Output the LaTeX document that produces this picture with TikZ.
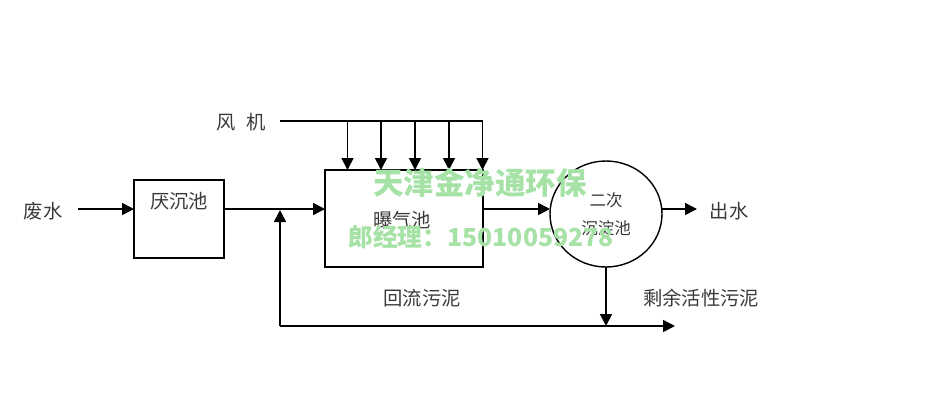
\documentclass[tikz,border=0pt]{standalone}
\usepackage{fontspec}
\usetikzlibrary{shapes.geometric,arrows.meta}
\newfontfamily\cjk{Noto Sans CJK SC}
\definecolor{lbl}{HTML}{3A3A3A}
\definecolor{wm}{HTML}{A6E2A6}
\tikzset{
  pool/.style={draw=black,line width=1.8pt,inner sep=0pt,outer sep=0pt,anchor=north west},
  flow/.style={draw=black,line width=1.7pt,-{Triangle[length=12pt,width=12pt]}},
  plain/.style={draw=black,line width=1.7pt},
  lab/.style={font=\cjk\fontsize{19.3}{22}\selectfont,text=lbl,inner sep=0pt},
  small/.style={font=\cjk\fontsize{16.5}{20}\selectfont,text=lbl,inner sep=0pt},
  mark1/.style={font=\cjk\bfseries\fontsize{30.5}{34}\selectfont,text=wm,inner sep=0pt},
  mark2/.style={font=\cjk\bfseries\fontsize{24.8}{28}\selectfont,text=wm,inner sep=0pt}
}
\begin{document}
\begin{tikzpicture}[x=1pt,y=-1pt]
\useasboundingbox[fill=white] (0,0) rectangle (939,407);
% pools
\node[pool,minimum width=90pt,minimum height=78pt] (hyd) at (134,180) {};
\node[pool,minimum width=158pt,minimum height=97pt] (aer) at (325,170) {};
\node[ellipse,draw=black,line width=1.4pt,inner sep=0pt,outer sep=0pt,minimum width=112pt,minimum height=106pt] (sec) at (606,214) {};
% free ends
\coordinate (wasteEnd) at (78,209);
\coordinate (hydIn) at (134,209);
\coordinate (hydOut) at (224,209);
\coordinate (aerIn) at (325,209);
\coordinate (aerOut) at (483,209);
\coordinate (secIn) at (550,209);
\coordinate (secOut) at (662,209);
\coordinate (outEnd) at (697,209);
\coordinate (blowS) at (280,121);
\coordinate (blowE) at (483,121);
\coordinate (retC) at (280,326);
\coordinate (retT) at (280,210);
\coordinate (retE) at (675,326);
\coordinate (secB) at (606,267);
\coordinate (secJ) at (606,326);
% flows
\draw[flow] (wasteEnd) -- (hydIn);
\draw[flow] (hydOut) -- (aerIn);
\draw[flow] (aerOut) -- (secIn);
\draw[flow] (secOut) -- (outEnd);
\draw[plain,line width=1.3pt] (blowS) -- (blowE);
\foreach \x in {347.5,381,415,449,482.5}
  \draw[flow] (\x,121) -- (\x,170);
\draw[flow] (retC) -- (retT);
\draw[flow] (retC) -- (retE);
\draw[flow] (secB) -- (secJ);
% labels
\node[lab] (t1) at (43,211) {废水};
\node[lab] (t2) at (241,122) {风\hspace{0.55em}机};
\node[lab] (t3) at (179,201) {厌沉池};
\node[lab] (t4) at (402,220) {曝气池};
\node[small] (t5) at (606,200) {二次};
\node[small] (t6) at (606,228) {沉淀池};
\node[lab] (t7) at (729,211) {出水};
\node[lab] (t8) at (422,298) {回流污泥};
\node[lab] (t9) at (701,298) {剩余活性污泥};
% watermark
\node[mark1] (w1) at (480,183) {天津金净通环保};
\node[mark2] (w2) at (481,237) {郎经理：15010059278};
\end{tikzpicture}
\end{document}
